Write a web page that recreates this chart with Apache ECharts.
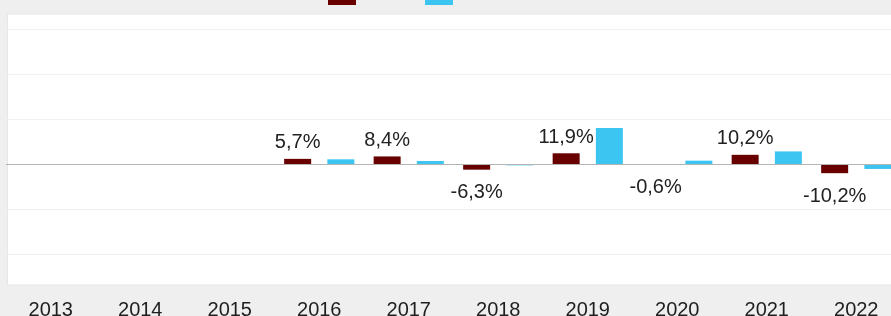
<!DOCTYPE html>
<html>
<head>
<meta charset="utf-8">
<script src="https://cdn.jsdelivr.net/npm/echarts@6/dist/echarts.min.js"></script>
<style>
html,body{margin:0;padding:0;background:#efefef;}
#c{width:891px;height:316px;}
</style>
</head>
<body>
<div id="c"></div>
<script>
const categories = ['2013','2014','2015','2016','2017','2018','2019','2020','2021','2022'];
const fundValues = [null, null, null, 5.7, 8.4, -6.3, 11.9, -0.6, 10.2, -10.2];
const benchValues = [null, null, null, 5.2, 3.3, -1.5, 40.0, 3.7, 14.0, -5.5];
const seriesNames = ['Fonds', 'Vergleichsindex'];
const colors = ['#680000', '#3cc5f1'];

function fmt(v){ return v.toFixed(1).replace('.', ',') + '%'; }

const chart = echarts.init(document.getElementById('c'), null, {renderer:'canvas'});
chart.setOption({
  backgroundColor: '#efefef',
  animation: false,
  graphic: [{
    type: 'rect', z: -10, silent: true,
    shape: {x: 7.5, y: 14, width: 890, height: 271},
    style: {fill: '#ffffff', stroke: '#e6e6e6', lineWidth: 1}
  }],
  legend: [
    {data: [seriesNames[0]], left: 323, top: -14, icon: 'rect', itemWidth: 28, itemHeight: 14, formatter: function(){return '';}, textStyle:{fontSize:1}},
    {data: [seriesNames[1]], left: 420, top: -14, icon: 'rect', itemWidth: 28, itemHeight: 14, formatter: function(){return '';}, textStyle:{fontSize:1}}
  ],
  grid: {left: 6, right: -10, top: -16, bottom: 17, containLabel: false, outerBoundsMode: 'none'},
  xAxis: {
    type: 'category', data: categories,
    axisLine: {show: false}, axisTick: {show: false},
    axisLabel: {color: '#1e1e1e', fontSize: 20, fontFamily: 'Liberation Sans, Arial, sans-serif', margin: 1}
  },
  yAxis: {
    type: 'value', min: -150, max: 200, interval: 50,
    axisLabel: {show: false}, axisLine: {show: false}, axisTick: {show: false},
    splitLine: {show: true, showMinLine: false, showMaxLine: false, lineStyle: {color: '#f1f1f1', width: 1}}
  },
  series: [
    {
      name: seriesNames[0], type: 'bar', barWidth: 27, barGap: '60%',
      itemStyle: {color: colors[0]},
      data: fundValues.map(v => v === null ? null : {
        value: v,
        label: {show: true, position: v >= 0 ? 'top' : 'bottom', distance: v >= 0 ? 6 : 13}
      }),
      label: {show: true, formatter: p => fmt(p.value), color: '#222', fontSize: 20, fontFamily: 'Liberation Sans, Arial, sans-serif'},
      markLine: {
        silent: true, symbol: 'none', label: {show: false},
        lineStyle: {color: '#b4b4b4', type: 'solid', width: 1},
        data: [{yAxis: 0}]
      }
    },
    {
      name: seriesNames[1], type: 'bar', barWidth: 27, barGap: '60%',
      itemStyle: {color: colors[1]},
      data: benchValues
    }
  ]
});
</script>
</body>
</html>
